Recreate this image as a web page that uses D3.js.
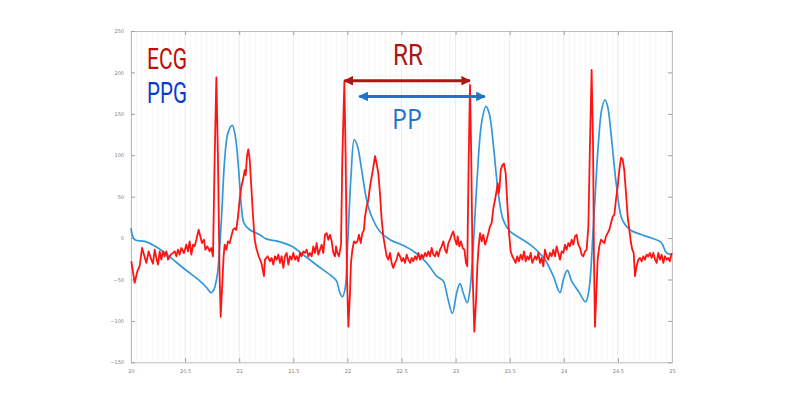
<!DOCTYPE html>
<html>
<head>
<meta charset="utf-8">
<script src="https://cdn.jsdelivr.net/npm/d3@7"></script>
<style>
  body { margin: 0; background: #fff; }
  svg { display: block; }
</style>
</head>
<body>
<div id="chart"></div>
<script>
// ECG samples [time s, amplitude]
const ecg = [
  [20.003,-28],[20.034,-54],[20.059,-40],[20.080,-34],[20.102,-12],[20.120,-20],[20.142,-30],[20.163,-16],
  [20.182,-24],[20.203,-31],[20.219,-14],[20.237,-26],[20.250,-32],[20.265,-16],[20.280,-26],[20.296,-16],
  [20.311,-22],[20.327,-16],[20.342,-26],[20.367,-20],[20.388,-18],[20.404,-16],[20.419,-22],[20.434,-14],
  [20.450,-20],[20.465,-12],[20.490,-18],[20.511,-8],[20.527,-16],[20.542,-4],[20.558,-20],[20.573,-8],
  [20.588,-10],[20.604,-2],[20.625,10],[20.641,2],[20.656,-6],[20.675,-2],[20.687,-14],[20.706,-10],
  [20.727,-16],[20.742,-12],[20.758,-22],[20.773,95],[20.789,194],[20.804,95],[20.819,-46],[20.829,-95],
  [20.841,-62],[20.856,-22],[20.866,-8],[20.881,-14],[20.896,-4],[20.912,-6],[20.927,2],[20.943,10],
  [20.958,12],[20.973,10],[20.989,26],[21.004,46],[21.020,62],[21.035,70],[21.051,82],[21.060,76],
  [21.072,99],[21.084,107],[21.097,95],[21.112,62],[21.128,26],[21.143,-2],[21.158,-12],[21.180,-22],
  [21.205,-30],[21.229,-46],
  [21.238,-26],[21.263,-22],[21.285,-28],[21.300,-24],[21.315,-32],[21.331,-22],[21.346,-26],[21.362,-20],
  [21.377,-30],[21.392,-22],[21.408,-36],[21.423,-22],[21.439,-18],[21.454,-32],[21.469,-22],[21.485,-26],
  [21.500,-18],[21.516,-26],[21.531,-22],[21.546,-28],[21.562,-18],[21.577,-22],[21.593,-16],[21.608,-18],
  [21.623,-14],[21.639,-22],[21.654,-18],[21.670,-22],[21.685,-10],[21.700,-18],[21.716,-6],[21.731,-20],
  [21.747,-14],[21.762,-8],[21.777,-18],[21.793,4],[21.808,6],[21.824,-2],[21.839,4],[21.855,-4],
  [21.870,-18],[21.885,-22],[21.895,-10],[21.907,-18],[21.922,-22],[21.941,-8],[21.953,95],[21.972,189],
  [21.984,95],[21.996,-46],[22.009,-107],[22.024,-66],[22.033,-30],[22.046,-14],[22.061,-4],[22.076,-6],
  [22.092,-4],[22.107,4],[22.123,-6],[22.138,6],[22.153,10],[22.163,26],[22.178,38],[22.193,46],
  [22.209,62],[22.224,74],[22.240,86],[22.255,99],[22.270,90],[22.286,78],[22.301,54],[22.317,22],
  [22.332,2],[22.347,-10],[22.363,-22],[22.378,-26],[22.394,-18],[22.409,-30],[22.424,-36],[22.440,-30],
  [22.455,-26],[22.470,-18],
  [22.486,-22],[22.502,-28],[22.517,-24],[22.532,-30],[22.548,-20],[22.563,-26],[22.579,-30],[22.594,-24],
  [22.609,-28],[22.625,-22],[22.640,-26],[22.656,-18],[22.671,-26],[22.686,-20],[22.702,-24],[22.717,-18],
  [22.733,-22],[22.748,-16],[22.763,-22],[22.779,-12],[22.794,-20],[22.810,-22],[22.825,-16],[22.840,-22],
  [22.856,-14],[22.871,-10],[22.887,-4],[22.902,-14],[22.917,-18],[22.933,-6],[22.948,-2],[22.964,4],
  [22.979,8],[22.994,-2],[23.010,-8],[23.019,2],[23.034,-10],[23.050,-4],[23.065,-12],[23.081,-14],
  [23.096,-30],[23.108,-34],[23.121,95],[23.133,185],[23.145,95],[23.158,-46],[23.173,-113],[23.189,-75],
  [23.201,-34],[23.213,-10],[23.226,6],[23.241,-4],[23.256,4],[23.272,-8],[23.287,-2],[23.303,6],
  [23.318,14],[23.333,18],[23.349,36],[23.364,46],[23.380,58],[23.389,66],[23.398,54],[23.407,62],
  [23.417,82],[23.432,88],[23.447,90],[23.463,78],[23.478,42],[23.494,6],[23.509,-16],[23.524,-22],
  [23.540,-26],[23.555,-30],[23.570,-22],[23.586,-28],[23.601,-20],[23.617,-26],[23.632,-16],[23.648,-28],
  [23.663,-22],[23.678,-26],[23.694,-18],[23.709,-30],
  [23.734,-22],[23.749,-26],[23.765,-18],[23.780,-30],[23.795,-24],[23.811,-34],[23.826,-14],[23.842,-22],
  [23.857,-26],[23.872,-18],[23.888,-22],[23.903,-14],[23.919,-22],[23.934,-10],[23.949,-18],[23.965,-26],
  [23.980,-16],[23.996,-18],[24.011,-8],[24.026,-14],[24.042,-6],[24.057,-10],[24.073,-2],[24.088,-8],
  [24.103,2],[24.119,4],[24.134,-8],[24.150,-12],[24.165,-20],[24.180,-22],[24.196,-16],[24.211,-14],
  [24.227,14],[24.242,115],[24.257,203],[24.270,115],[24.279,-26],[24.288,-107],[24.301,-66],[24.313,-26],
  [24.328,-10],[24.344,-2],[24.359,-4],[24.375,-6],[24.390,2],[24.405,6],[24.421,10],[24.436,18],
  [24.452,26],[24.467,28],[24.482,46],[24.498,62],[24.513,82],[24.529,97],[24.544,95],[24.559,82],
  [24.575,54],[24.590,26],[24.606,10],[24.621,-6],[24.633,-14],[24.646,-18],[24.658,-46],[24.673,-34],
  [24.689,-26],[24.704,-24],[24.720,-28],[24.735,-22],[24.750,-26],[24.766,-20],[24.781,-22],[24.796,-18],
  [24.812,-24],[24.827,-18],[24.843,-26],[24.858,-30],[24.873,-18],[24.889,-26],[24.904,-20],[24.920,-30],
  [24.935,-22],[24.950,-26],[24.966,-24],[24.981,-28],[24.997,-18]
];

// PPG samples [time s, amplitude]
const ppg = [
  [20.0,12],[20.034,-2],[20.127,-4],[20.25,-12],[20.37,-24],[20.5,-38],[20.62,-50],[20.7,-60],
  [20.74,-66],[20.767,-62],[20.8,-42],[20.835,22],[20.866,95],[20.896,127],[20.936,136],[20.964,123],
  [20.995,82],[21.02,38],[21.044,18],[21.097,10],[21.19,4],[21.25,-1],[21.361,-4],[21.485,-10],
  [21.61,-22],[21.73,-34],[21.855,-46],[21.9,-52],[21.93,-66],[21.953,-71],[21.978,-62],[22.003,-6],
  [22.033,74],[22.064,119],[22.095,110],[22.132,82],[22.178,46],[22.224,26],[22.3,8],[22.394,-2],
  [22.5,-8],[22.61,-16],[22.733,-30],[22.825,-46],[22.886,-52],[22.93,-74],[22.97,-91],[23.01,-66],
  [23.04,-55],[23.07,-66],[23.107,-78],[23.133,-62],[23.163,-10],[23.2,74],[23.24,139],[23.28,159],
  [23.31,151],[23.35,111],[23.395,54],[23.44,22],[23.503,8],[23.595,0],[23.688,-8],[23.76,-16],
  [23.826,-26],[23.903,-46],[23.965,-66],[23.996,-50],[24.033,-39],[24.073,-52],[24.134,-64],[24.202,-77],
  [24.233,-62],[24.273,14],[24.32,115],[24.35,155],[24.38,167],[24.405,159],[24.442,119],[24.488,62],
  [24.54,22],[24.612,10],[24.72,4],[24.81,0],[24.898,-5],[24.95,-18],[25.0,-20]
];

const xTicks = [20, 20.5, 21, 21.5, 22, 22.5, 23, 23.5, 24, 24.5, 25];
const yTicks = [-150, -100, -50, 0, 50, 100, 150, 200, 250];

// interval annotations [start, end, level]
const rrInterval = [21.972, 23.133, 190];
const ppInterval = [22.11, 23.27, 171];

const width = 800, height = 400;
const margin = { top: 31, right: 128, bottom: 38, left: 131 };

const svg = d3.select("#chart").append("svg")
  .attr("width", width)
  .attr("height", height);

const x = d3.scaleLinear().domain([20, 25]).range([margin.left, width - margin.right]);
const y = d3.scaleLinear().domain([-150, 250]).range([height - margin.bottom + 0.3, margin.top]);

// minor + major grid
const minor = d3.range(20, 25.001, 0.05);
svg.append("g").selectAll("line").data(minor).join("line")
  .attr("x1", d => x(d)).attr("x2", d => x(d))
  .attr("y1", y(250)).attr("y2", y(-150))
  .attr("stroke", "#f7f7f7").attr("stroke-width", 1);
svg.append("g").selectAll("line").data(xTicks).join("line")
  .attr("x1", d => x(d)).attr("x2", d => x(d))
  .attr("y1", y(250)).attr("y2", y(-150))
  .attr("stroke", "#ececec").attr("stroke-width", 1);

// axes (MATLAB-like box with inward ticks)
const axisColor = "#bdbdbd";
const tickFont = "5px 'DejaVu Sans'";

const gx = svg.append("g").attr("transform", `translate(0,${y(-150)})`)
  .call(d3.axisBottom(x).tickValues(xTicks).tickSizeInner(-4).tickSizeOuter(0).tickPadding(7).tickFormat(d3.format("")));
const gxt = svg.append("g").attr("transform", `translate(0,${y(250)})`)
  .call(d3.axisTop(x).tickValues(xTicks).tickSizeInner(-4).tickSizeOuter(0).tickFormat(""));
const gy = svg.append("g").attr("transform", `translate(${x(20)},0)`)
  .call(d3.axisLeft(y).tickValues(yTicks).tickSizeInner(-4).tickSizeOuter(0).tickPadding(7));
const gyr = svg.append("g").attr("transform", `translate(${x(25)},0)`)
  .call(d3.axisRight(y).tickValues(yTicks).tickSizeInner(-4).tickSizeOuter(0).tickFormat(""));

[gx, gxt, gy, gyr].forEach(g => {
  g.selectAll("path").attr("stroke", axisColor);
  g.selectAll("line").attr("stroke", "#a0a0a0");
  g.selectAll("text").attr("fill", "#808080").style("font", tickFont);
});

// traces
const line = d3.line().x(d => x(d[0])).y(d => y(d[1]));

svg.append("path").datum(ppg)
  .attr("d", line.curve(d3.curveCatmullRom.alpha(0.5)))
  .attr("fill", "none").attr("stroke", "#3398da").attr("stroke-width", 1.7)
  .attr("stroke-linejoin", "round");

svg.append("path").datum(ecg)
  .attr("d", d3.line().x(d => x(d[0])).y(d => y(d[1]))(ecg))
  .attr("fill", "none").attr("stroke", "#ff1414").attr("stroke-width", 1.8)
  .attr("stroke-linejoin", "round");

// arrows
const defs = svg.append("defs");
function marker(id, color) {
  defs.append("marker").attr("id", id)
    .attr("viewBox", "0 0 10 10").attr("refX", 9).attr("refY", 5)
    .attr("markerWidth", 3.4).attr("markerHeight", 3.2)
    .attr("markerUnits", "strokeWidth").attr("orient", "auto-start-reverse")
    .append("path").attr("d", "M0,0L10,5L0,10z").attr("fill", color);
}
marker("rrHead", "#b01414");
marker("ppHead", "#1d74c8");

svg.append("line")
  .attr("x1", x(rrInterval[0])).attr("x2", x(rrInterval[1]))
  .attr("y1", y(rrInterval[2])).attr("y2", y(rrInterval[2]))
  .attr("stroke", "#b01414").attr("stroke-width", 3)
  .attr("marker-start", "url(#rrHead)").attr("marker-end", "url(#rrHead)");

svg.append("line")
  .attr("x1", x(ppInterval[0])).attr("x2", x(ppInterval[1]))
  .attr("y1", y(ppInterval[2])).attr("y2", y(ppInterval[2]))
  .attr("stroke", "#1d74c8").attr("stroke-width", 3)
  .attr("marker-start", "url(#ppHead)").attr("marker-end", "url(#ppHead)");

// labels
function label(txt, px, py, len, size, color, family) {
  svg.append("text")
    .attr("x", px).attr("y", py)
    .attr("textLength", len).attr("lengthAdjust", "spacingAndGlyphs")
    .attr("fill", color)
    .style("font-family", family).style("font-size", size + "px")
    .text(txt);
}
label("ECG", 147, 68.5, 40, 29, "#c00a0a", "Roboto");
label("PPG", 147, 102.5, 40, 29, "#0a3cc8", "Roboto");
label("RR", 393, 65, 30, 29, "#b01414", "Roboto");
label("PP", 392, 128.5, 30, 27, "#1d74c8", "'Open Sans'");
</script>
</body>
</html>
